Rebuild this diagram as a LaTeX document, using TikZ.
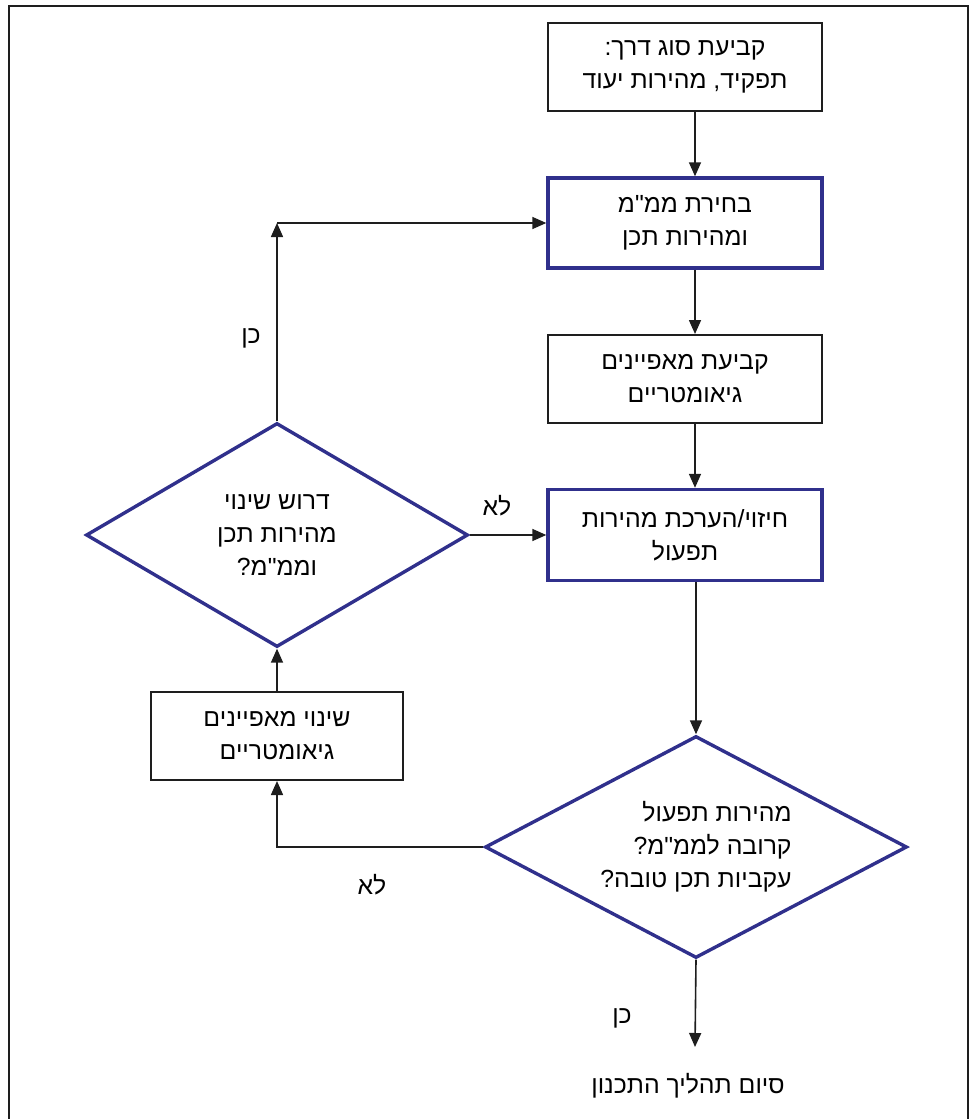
\documentclass[tikz,border=0pt]{standalone}
\usepackage{fontspec}
\usetikzlibrary{shapes.geometric,arrows.meta,calc}
\TeXXeTstate=1
\newfontfamily\heb[Script=Hebrew]{Liberation Sans}
\newcommand{\rl}[1]{\beginR #1\endR}
\definecolor{navy}{RGB}{48,48,140}
\definecolor{ink}{RGB}{30,30,30}
\tikzset{
  hfont/.style={font=\heb\fontsize{12.4}{16.5}\selectfont},
  box/.style={draw=ink, line width=1pt, minimum width=137pt, minimum height=44pt,
    inner sep=0pt, hfont, align=center, fill=white},
  bluebox/.style={box, draw=navy, line width=1.7pt},
  dia/.style={diamond, draw=navy, line width=1.7pt, aspect=1.8, inner sep=0pt, hfont},
  conn/.style={draw=ink, line width=0.8pt, -{Triangle[length=7pt,width=6pt]}},
  lbl/.style={hfont, inner sep=0pt},
}
\begin{document}
\begin{tikzpicture}[x=0.5pt, y=-0.5pt]
\useasboundingbox (0,0) rectangle (973,1119);
\draw[line width=1.2pt, ink] (9,1119) -- (9,6) -- (968,6) -- (968,1119);

\coordinate (cx) at (695,0);
\node[box]     (b1) at (685,67)  {\rl{קביעת סוג דרך:}\\\rl{תפקיד, מהירות יעוד}};
\node[bluebox, minimum height=45pt] (b2) at (685,223) {\rl{בחירת ממ"מ}\\\rl{ומהירות תכן}};
\node[box]     (b3) at (685,379) {\rl{קביעת מאפיינים}\\\rl{גיאומטריים}};
\node[bluebox, minimum height=45.5pt] (b4) at (685,535) {\rl{חיזוי/הערכת מהירות}\\\rl{תפעול}};
\node[dia, minimum width=191pt, minimum height=112pt, align=center] (d1) at (277,535)
  {\rl{דרוש שינוי}\\\rl{מהירות תכן}\\\rl{וממ"מ?}};
\node[box, minimum width=126pt] (b5) at (277,736) {\rl{שינוי מאפיינים}\\\rl{גיאומטריים}};
\node[dia, minimum width=211pt, minimum height=111pt, align=right] (d2) at (696,847)
  {\rl{מהירות תפעול}\\\rl{קרובה לממ"מ?}\\\rl{עקביות תכן טובה?}};
\node[lbl] (end) at (688,1086) {\rl{סיום תהליך התכנון}};
\coordinate (tip) at (695,1047);

\draw[conn] (b1.south -| cx) -- (b2.north -| cx);
\draw[conn] (b2.south -| cx) -- (b3.north -| cx);
\draw[conn] (b3.south -| cx) -- (b4.north -| cx);
\draw[conn] (b4.south -| d2.north) -- (d2.north);
\draw[conn] (d2.south) -- (tip);
\draw[conn] (d2.west) -| (b5.south);
\draw[conn] (b5.north) -- (d1.south);
\coordinate (c1) at (d1.north |- b2.west);
\draw[conn] (d1.north) -- (c1);
\draw[conn] (c1) -- (b2.west);
\draw[conn] (d1.east) -- (b4.west);

\node[lbl] (yes1) at (251,338) {\rl{כן}};
\node[lbl] (no1) at (497,506) {\rl{לא}};
\node[lbl] (no2) at (372,885) {\rl{לא}};
\node[lbl] (yes2) at (622,1018) {\rl{כן}};
\end{tikzpicture}
\end{document}
